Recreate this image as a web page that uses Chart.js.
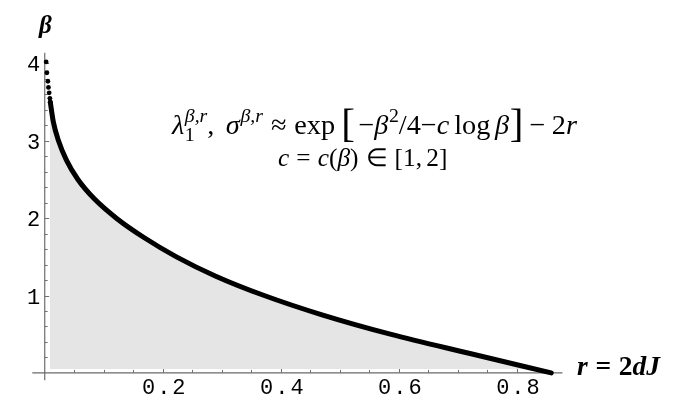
<!DOCTYPE html>
<html><head><meta charset="utf-8">
<script src="https://cdn.jsdelivr.net/npm/chart.js@4.4.1/dist/chart.umd.min.js"></script>
<style>html,body{margin:0;padding:0;background:#fff;}#wrap{width:680px;height:409px;}</style>
</head><body><div id="wrap"><canvas id="c" width="680" height="409"></canvas></div>
<script>
// sparse dots at the top of the curve (r, beta)
const dotR    = [0.0025, 0.0037, 0.0054, 0.0064, 0.0076, 0.0088, 0.0095];
const dotBeta = [4.02,   3.88,   3.77,   3.69,   3.62,   3.55,   3.50];
// dense (continuous-looking) part of the curve (r, beta)
const curveR    = [0.0095, 0.0145, 0.0234, 0.0368, 0.0563, 0.0840, 0.1214, 0.1681, 0.2232, 0.2898, 0.3718, 0.4698, 0.5854, 0.7204, 0.8580];
const curveBeta = [3.50,   3.25,   3.00,   2.75,   2.50,   2.25,   2.00,   1.75,   1.50,   1.25,   1.00,   0.75,   0.50,   0.25,   0.00];
const xMajorTicks = [0.2, 0.4, 0.6, 0.8];
const xTickLabels = ['0.2', '0.4', '0.6', '0.8'];
const xMinorTicks = [0.05,0.1,0.15,0.25,0.3,0.35,0.45,0.5,0.55,0.65,0.7,0.75,0.85];
const yMajorTicks = [1, 2, 3, 4];
const yTickLabels = ['1', '2', '3', '4'];
const yMinorTicks = [0.2,0.4,0.6,0.8,1.2,1.4,1.6,1.8,2.2,2.4,2.6,2.8,3.2,3.4,3.6,3.8];

const SERIF = '"Liberation Serif","Times New Roman",serif';
const MONO = '"Liberation Mono","Courier New",monospace';

// points ordered from the axis end upward (keeps every point drawn)
const linePts = curveR.map((r, i) => ({x: r, y: curveBeta[i]})).reverse();
const dotPts = dotR.map((r, i) => ({x: r, y: dotBeta[i]})).reverse();
const fillPts = linePts.concat(dotPts.filter(p => p.x < curveR[0]));

function layoutRich(ctx, segs, size) {
  let x = 0, ps = 0; const items = [];
  for (const g of segs) {
    const fs = size * (g.s || 1);
    const font = (g.st || '') + ' ' + fs.toFixed(2) + 'px ' + (g.fam || SERIF);
    ctx.font = font;
    const w = ctx.measureText(g.t).width;
    let sx;
    if (g.stack) { sx = ps; x = Math.max(x, sx + w); }
    else { sx = x + (g.pre || 0) * size; x = sx + w + (g.post || 0) * size; ps = sx; }
    items.push({font, t: g.t, x: sx, dy: (g.dy || 0) * size});
  }
  return {items, width: x};
}
function drawFit(ctx, segs, left, right, baseline) {
  const L0 = layoutRich(ctx, segs, 20);
  const size = 20 * (right - left) / L0.width;
  const L = layoutRich(ctx, segs, size);
  for (const it of L.items) { ctx.font = it.font; ctx.fillText(it.t, left + it.x, baseline + it.dy); }
}

const line1 = [
  {t:'λ', st:'italic'},
  {t:'1', s:0.7, dy:0.25, pre:0.02},
  {t:'β,r', st:'italic', s:0.7, dy:-0.42, stack:true},
  {t:',', post:0.4},
  {t:'σ', st:'italic'},
  {t:'β,r', st:'italic', s:0.7, dy:-0.42, pre:0.03},
  {t:'≈', pre:0.28, post:0.28},
  {t:'exp'},
  {t:'[', s:1.45, dy:0.1, pre:0.22, post:0.12},
  {t:'−'},
  {t:'β', st:'italic'},
  {t:'2', s:0.7, dy:-0.42, pre:0.02},
  {t:'/4'},
  {t:'−'},
  {t:'c', st:'italic'},
  {t:'log', pre:0.17},
  {t:'β', st:'italic', pre:0.17},
  {t:']', s:1.45, dy:0.1, pre:0.02},
  {t:'−', pre:0.22, post:0.22},
  {t:'2'},
  {t:'r', st:'italic'}
];
const line2 = [
  {t:'c', st:'italic'},
  {t:'=', pre:0.28, post:0.28},
  {t:'c', st:'italic'},
  {t:'('},
  {t:'β', st:'italic'},
  {t:')'},
  {t:'∈', pre:0.28, post:0.28},
  {t:'[1,'},
  {t:'2]', pre:0.17}
];
const xLabel = [
  {t:'r', st:'bold italic'},
  {t:'=', st:'bold', pre:0.28, post:0.28},
  {t:'2', st:'bold'},
  {t:'dJ', st:'bold italic'}
];

const decor = {
  id: 'decor',
  beforeDatasetsDraw(chart) {
    const ctx = chart.ctx, xs = chart.scales.x, ys = chart.scales.y;
    const x0 = xs.getPixelForValue(0), y0 = ys.getPixelForValue(0);
    ctx.save();
    ctx.strokeStyle = '#808080';
    ctx.lineWidth = 1.4;
    ctx.beginPath();
    ctx.moveTo(x0, y0 + 7.5); ctx.lineTo(x0, ys.getPixelForValue(4.14));
    ctx.stroke();
    ctx.strokeStyle = '#6a6a6a';
    ctx.lineWidth = 1.2;
    ctx.beginPath();
    ctx.moveTo(xs.getPixelForValue(-0.021), y0); ctx.lineTo(xs.getPixelForValue(0.877), y0);
    ctx.stroke();
    ctx.lineWidth = 1;
    ctx.strokeStyle = '#707070';
    ctx.beginPath();
    for (const v of xMajorTicks) { const p = Math.round(xs.getPixelForValue(v)) + 0.5; ctx.moveTo(p, y0); ctx.lineTo(p, y0 - 4.5); }
    for (const v of xMinorTicks) { const p = Math.round(xs.getPixelForValue(v)) + 0.5; ctx.moveTo(p, y0); ctx.lineTo(p, y0 - 3); }
    for (const v of yMajorTicks) { const p = Math.round(ys.getPixelForValue(v)) + 0.5; ctx.moveTo(x0, p); ctx.lineTo(x0 + 4.5, p); }
    for (const v of yMinorTicks) { const p = Math.round(ys.getPixelForValue(v)) + 0.5; ctx.moveTo(x0, p); ctx.lineTo(x0 + 3, p); }
    ctx.stroke();
    // tick labels
    ctx.fillStyle = '#000';
    ctx.font = '22px ' + MONO;
    ctx.textBaseline = 'alphabetic';
    ctx.textAlign = 'center';
    ctx.letterSpacing = '2px';
    xMajorTicks.forEach((v, i) => ctx.fillText(xTickLabels[i], xs.getPixelForValue(v) + 2, y0 + 21));
    ctx.letterSpacing = '0px';
    ctx.textAlign = 'right';
    yMajorTicks.forEach((v, i) => ctx.fillText(yTickLabels[i], x0 - 4.5, ys.getPixelForValue(v) + 8));
    ctx.restore();
  },
  afterDraw(chart) {
    const ctx = chart.ctx;
    ctx.save();
    ctx.fillStyle = '#000';
    ctx.textAlign = 'left';
    ctx.textBaseline = 'alphabetic';
    drawFit(ctx, line1, 172, 577, 134);
    drawFit(ctx, line2, 278, 447, 166);
    drawFit(ctx, xLabel, 577, 660, 375);
    ctx.font = 'bold italic 25px ' + SERIF;
    ctx.textAlign = 'center';
    ctx.fillText('β', 45.5, 33);
    ctx.restore();
  }
};

new Chart(document.getElementById('c'), {
  type: 'line',
  data: {
    datasets: [
      {
        data: fillPts,
        borderWidth: 0,
        borderColor: 'rgba(0,0,0,0)',
        pointRadius: 0,
        backgroundColor: '#e5e5e5',
        fill: 'start',
        cubicInterpolationMode: 'monotone',
        order: 3
      },
      {
        data: linePts,
        borderColor: '#000',
        borderWidth: 5,
        borderCapStyle: 'round',
        borderJoinStyle: 'round',
        pointRadius: 0,
        fill: false,
        clip: false,
        cubicInterpolationMode: 'monotone',
        order: 2
      },
      {
        data: dotPts,
        showLine: false,
        pointRadius: 2.4,
        pointBorderWidth: 0,
        pointBackgroundColor: '#000',
        pointBorderColor: '#000',
        fill: false,
        clip: false,
        order: 1
      }
    ]
  },
  options: {
    responsive: false,
    animation: false,
    devicePixelRatio: 1,
    layout: {padding: {left: 50, right: 104, top: 48, bottom: 40}},
    scales: {
      x: {type: 'linear', min: 0.009, max: 0.9, display: false},
      y: {type: 'linear', min: 0.05, max: 4.2, display: false}
    },
    plugins: {legend: {display: false}, tooltip: {enabled: false}}
  },
  plugins: [decor]
});
</script>
</body></html>
